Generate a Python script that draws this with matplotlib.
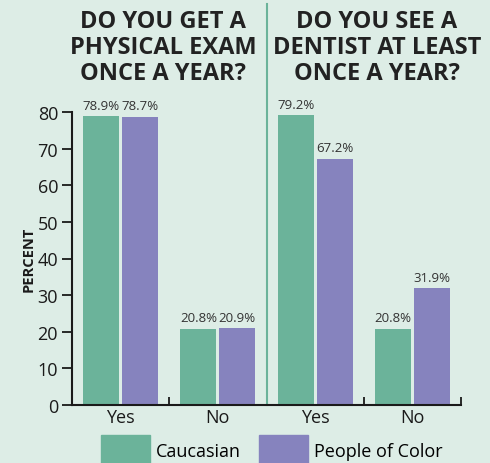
import numpy as np
import matplotlib.pyplot as plt
from matplotlib.patches import Patch

# data
categories = ["Yes", "No", "Yes", "No"]
caucasian = [78.9, 20.8, 79.2, 20.8]
people_of_color = [78.7, 20.9, 67.2, 31.9]
series_names = ["Caucasian", "People of Color"]
titles = ["DO YOU GET A\nPHYSICAL EXAM\nONCE A YEAR?",
          "DO YOU SEE A\nDENTIST AT LEAST\nONCE A YEAR?"]

bg = "#ddede6"
green = "#6bb39a"
purple = "#8683be"
dark = "#1a1a1a"

plt.rcParams['font.family'] = ['Open Sans', 'DejaVu Sans']

fig = plt.figure(figsize=(4.9, 4.64), dpi=100, facecolor=bg)
ax = fig.add_axes([72/490, 1-406/464, 389/490, 293/464])
ax.set_facecolor(bg)

x = np.arange(len(categories))
w = 0.37
b1 = ax.bar(x - 0.2, caucasian, w, color=green)
b2 = ax.bar(x + 0.2, people_of_color, w, color=purple)

for bars, vals in [(b1, caucasian), (b2, people_of_color)]:
    for r, v in zip(bars, vals):
        ax.text(r.get_x() + r.get_width()/2, v + 1.2, f"{v}%",
                ha='center', va='bottom', fontsize=9.5, color="#333333")

ax.set_xlim(-0.5, 3.5)
ax.set_ylim(0, 80)
ax.set_yticks(range(0, 81, 10))
ax.tick_params(axis='y', labelsize=13, length=7, width=1.3, color=dark, labelcolor=dark, pad=3)
ax.set_xticks(x)
ax.set_xticklabels(categories)
ax.tick_params(axis='x', which='major', length=0, labelsize=13, labelcolor=dark, pad=2)
ax.set_xticks([0.5, 1.5, 2.5, 3.5], minor=True)
ax.tick_params(axis='x', which='minor', direction='in', length=6, width=1.3, color=dark)

for s in ['top', 'right']:
    ax.spines[s].set_visible(False)
for s in ['left', 'bottom']:
    ax.spines[s].set_linewidth(1.5)
    ax.spines[s].set_color(dark)

ax.set_ylabel("PERCENT", fontsize=10.5, fontweight='bold', color=dark, labelpad=1)

# divider between the two questions
ax.axvline(1.5, ymin=0, ymax=401/293, color=green, lw=1.5, clip_on=False)

fig.text(163/490, 1-48/464, titles[0], ha='center', va='center', fontsize=17,
         fontweight='bold', color="#222222", linespacing=1.12)
fig.text(377/490, 1-48/464, titles[1], ha='center', va='center', fontsize=17,
         fontweight='bold', color="#222222", linespacing=1.12)

handles = [Patch(color=green), Patch(color=purple)]
fig.legend(handles, series_names, loc='upper left', bbox_to_anchor=(101/490, 1-436/464),
           ncol=2, frameon=False, fontsize=13, handlelength=2.7, handleheight=2.2,
           handletextpad=0.35, columnspacing=1.0, borderpad=0, borderaxespad=0)

fig.savefig("out.png", dpi=100, facecolor=bg)
